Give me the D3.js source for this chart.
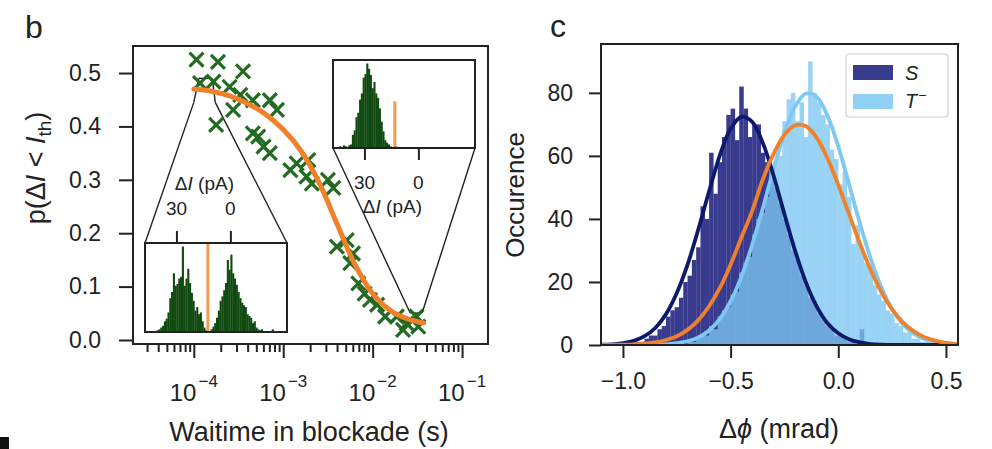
<!DOCTYPE html>
<html>
<head>
<meta charset="utf-8">
<script src="https://cdn.jsdelivr.net/npm/d3@7"></script>
<style>
  body { margin: 0; background: #fff; }
  svg text { font-family: "Liberation Sans", Arial, sans-serif; fill: #222; }
</style>
</head>
<body>
<svg id="fig" width="992" height="449"></svg>
<script>
// ---------- panel b data ----------
// wait time as log10(seconds), probability p(dI < I_th)
const waitExp = [-3.97, -3.73, -3.45, -3.93, -3.78, -3.60, -3.48, -3.75, -3.56,
  -3.34, -3.15, -3.07, -3.34, -3.28, -3.22, -3.15, -2.92, -2.85, -2.74, -2.68, -2.72,
  -2.50, -2.44, -2.40, -2.29, -2.22, -2.25, -2.16, -2.09, -2.03, -1.95,
  -1.86, -1.73, -1.62, -1.66, -1.51, -1.49];
const pBelow = [0.525, 0.521, 0.503, 0.481, 0.484, 0.474, 0.459, 0.403, 0.431,
  0.449, 0.449, 0.431, 0.387, 0.381, 0.362, 0.350, 0.318, 0.331, 0.306, 0.293, 0.337,
  0.300, 0.285, 0.175, 0.187, 0.162, 0.144, 0.106, 0.087, 0.075, 0.066,
  0.044, 0.044, 0.031, 0.019, 0.044, 0.025];
const fitExp = [-4.0, -3.8, -3.6, -3.4, -3.2, -3.0, -2.8, -2.6, -2.4, -2.2,
  -2.0, -1.8, -1.6, -1.43];
const fitP = [0.470, 0.466, 0.457, 0.443, 0.423, 0.394, 0.354, 0.295, 0.218, 0.142,
  0.087, 0.055, 0.039, 0.032];
const pTicks = [0, 0.1, 0.2, 0.3, 0.4, 0.5];
const decadeTicks = [-4, -3, -2, -1];

// inset histograms, 1 pA bins, first bin centred on 43.5 pA, going down
const insetFirstBin = 43.5;
const insetShortCounts = [0, 1, 1, 2, 3, 5, 7, 12, 15, 22, 38, 45, 66, 52, 54, 60, 62, 96, 52, 60,
  71, 55, 44, 35, 24, 28, 20, 22, 12, 5, 2, 1, 0, 3, 6, 10, 16, 24, 35, 40,
  47, 55, 81, 70, 87, 66, 60, 53, 45, 38, 33, 30, 28, 20, 18, 16, 10, 12, 5, 3,
  2, 3, 0, 0, 0, 0, 0, 3, 0];
const insetLongCounts = [2, 1, 3, 2, 1, 3, 4, 15, 20, 35, 40, 55, 62, 80, 84, 96, 90, 83, 68, 75,
  62, 57, 45, 30, 19, 9, 6, 4, 2, 1, 0, 2, 1, 0, 1, 0, 1, 0, 1, 0,
  1, 0, 0, 1, 0, 1, 0, 1, 0, 0, 0, 0, 0, 0, 0, 0, 0, 0, 0, 0];
const insetTicks = [30, 0];
const thresholdShort = 12.5;   // pA
const thresholdLong = 13.1;    // pA
const thresholdLongHeight = 53;

// ---------- panel c data ----------
const phiBinWidth = 0.02;
const sFirstBin = -1.00;
const sCounts = [0, 1, 0, 1, 1, 2, 3, 3, 5, 6, 9, 11, 12, 15, 20, 22, 27, 31, 44, 40,
  61, 48, 58, 66, 73, 75, 65, 82, 75, 66, 70, 70, 61, 58, 55, 50, 45, 40, 35, 30,
  27, 22, 19, 15, 14, 10, 8, 6, 5, 3, 3, 2, 1, 1, 0, 5, 0];
const tFirstBin = -0.70;
const tCounts = [1, 1, 2, 3, 3, 6, 5, 9, 11, 12, 16, 17, 23, 26, 28, 35, 40, 42, 47, 55,
  58, 60, 71, 78, 80, 71, 77, 66, 90, 80, 77, 73, 70, 62, 59, 51, 55, 47, 32, 38,
  30, 26, 25, 19, 16, 14, 11, 10, 7, 6, 4, 4, 2, 2, 1, 1];
const phiGrid = [-1.10, -1.05, -1.00, -0.95, -0.90, -0.85, -0.80, -0.75, -0.70, -0.65,
  -0.60, -0.55, -0.50, -0.45, -0.40, -0.35, -0.30, -0.25, -0.20, -0.15,
  -0.10, -0.05, 0.00, 0.05, 0.10, 0.15, 0.20, 0.25, 0.30, 0.35, 0.40, 0.45, 0.50, 0.55];
const sFit = [0.1, 0.2, 0.6, 1.3, 2.8, 5.4, 9.8, 16.5, 25.5, 36.7,
  48.8, 60.2, 68.6, 72.4, 70.8, 64.0, 53.6, 41.5, 29.8, 19.8,
  12.2, 6.9, 3.7, 1.8, 0.8, 0.3, 0.1, 0, 0, 0, 0, 0, 0, 0];
const tFit = [0, 0, 0, 0, 0.04, 0.1, 0.2, 0.6, 1.2, 2.4,
  4.6, 8.3, 13.9, 21.7, 31.8, 43.5, 55.9, 67.2, 75.7, 79.8,
  78.7, 72.7, 63.0, 51.0, 38.7, 27.5, 18.3, 11.4, 6.6, 3.6, 1.85, 0.9, 0.4, 0.2];
const mixFit = [0, 0.04, 0.1, 0.2, 0.4, 0.8, 1.6, 2.8, 4.8, 7.9,
  12.3, 18.1, 25.5, 34.1, 42.5, 52.6, 60.7, 66.7, 69.7, 69.4,
  65.7, 59.2, 50.8, 41.5, 32.3, 23.9, 16.8, 11.3, 7.2, 4.4, 2.5, 1.4, 0.7, 0.3];
const phiTicks = [-1.0, -0.5, 0.0, 0.5];
const countTicks = [0, 20, 40, 60, 80];
const legendLabels = ["S", "T"];

const INK = "#222";
const GREEN = "#236b23";
const DARK_GREEN = "#114a11";
const ORANGE = "#f0802a";
const NAVY_BAR = "#393c8e";
const SKY_BAR = "#7cc6f2";

const svg = d3.select("#fig");

function styleAxis(g, fontSize) {
  g.select(".domain").remove();
  g.selectAll(".tick line").attr("stroke", INK).attr("stroke-width", 2);
  g.selectAll(".tick text").attr("font-size", fontSize).attr("fill", INK)
    .attr("font-family", "Liberation Sans, Arial, sans-serif");
}

// ================= panel b =================
const B = { left: 133, right: 488, top: 46, bottom: 344 };
const bx = d3.scaleLog().domain([10 ** -4.68, 10 ** -0.71]).range([B.left, B.right]);
const by = d3.scaleLinear().domain([-0.0075, 0.5506]).range([B.bottom, B.top]);
const gb = svg.append("g").attr("id", "panel-b");

gb.append("text").attr("x", 25).attr("y", 38).attr("font-size", 32).text("b");

gb.append("g").attr("transform", `translate(${B.left},0)`)
  .call(d3.axisLeft(by).tickValues(pTicks).tickSize(14).tickPadding(18).tickFormat(d3.format(".1f")))
  .call(g => styleAxis(g, 23));

const minorTicks = [];
decadeTicks.concat([-5]).forEach(e => {
  for (let m = 2; m <= 9; m++) {
    const v = m * 10 ** e;
    if (v > bx.domain()[0] && v < bx.domain()[1]) minorTicks.push(v);
  }
});
gb.append("g").attr("transform", `translate(0,${B.bottom})`)
  .call(d3.axisBottom(bx).tickValues(minorTicks).tickSize(8).tickFormat(""))
  .call(g => styleAxis(g, 10));
gb.append("g").attr("transform", `translate(0,${B.bottom})`)
  .call(d3.axisBottom(bx).tickValues(decadeTicks.map(e => 10 ** e)).tickSize(14).tickFormat(""))
  .call(g => styleAxis(g, 10));

const decLabels = gb.append("g").selectAll("text").data(decadeTicks).join("text")
  .attr("x", e => bx(10 ** e)).attr("y", 401)
  .attr("text-anchor", "middle").attr("font-size", 24);
decLabels.append("tspan").text("10");
decLabels.append("tspan").attr("dx", 2).attr("dy", -14).attr("font-size", 17).text(e => "\u2212" + Math.abs(e));

gb.append("text").attr("x", 309).attr("y", 441).attr("text-anchor", "middle")
  .attr("font-size", 27).text("Waitime in blockade (s)");

const yl = gb.append("text").attr("transform", "translate(45,168) rotate(-90)")
  .attr("text-anchor", "middle").attr("font-size", 27);
yl.append("tspan").text("p(\u0394");
yl.append("tspan").attr("font-style", "italic").text("I");
yl.append("tspan").text(" < ");
yl.append("tspan").attr("font-style", "italic").text("I");
yl.append("tspan").attr("font-size", 19).attr("dy", 6).text("th");
yl.append("tspan").attr("dy", -6).text(")");

// zoom lines from the insets to the curve
const shortApexL = [bx(10 ** -4.0), by(0.445)];
const shortApexR = [bx(10 ** -3.76), by(0.445)];
const longApexL = [bx(10 ** -1.58), by(0.0505)];
const longApexR = [bx(10 ** -1.447), by(0.0505)];
const zoomLines = [
  [[145, 243], shortApexL], [[287, 243], shortApexR],
  [shortApexL, [shortApexL[0] + 5, by(0.49)]], [[shortApexL[0] + 5, by(0.49)], [shortApexR[0] - 3, by(0.49)]],
  [[shortApexR[0] - 3, by(0.49)], shortApexR],
  [[333, 148], longApexL], [[475, 148], longApexR], [longApexL, longApexR]
];
gb.append("g").selectAll("line").data(zoomLines).join("line")
  .attr("x1", d => d[0][0]).attr("y1", d => d[0][1])
  .attr("x2", d => d[1][0]).attr("y2", d => d[1][1])
  .attr("stroke", INK).attr("stroke-width", 1.4);

// markers
const pts = waitExp.map((e, i) => [e, pBelow[i]]);
gb.append("g").selectAll("path").data(pts).join("path")
  .attr("transform", d => `translate(${bx(10 ** d[0])},${by(d[1])})`)
  .attr("d", "M-7,-7L7,7M-7,7L7,-7")
  .attr("stroke", GREEN).attr("stroke-width", 3.2).attr("fill", "none");

const fitLine = d3.line().x(d => bx(10 ** d[0])).y(d => by(d[1])).curve(d3.curveCatmullRom);
gb.append("path").datum(fitExp.map((e, i) => [e, fitP[i]]))
  .attr("d", fitLine).attr("fill", "none").attr("stroke", ORANGE).attr("stroke-width", 5)
  .attr("stroke-linecap", "round");

gb.append("rect").attr("x", B.left).attr("y", B.top)
  .attr("width", B.right - B.left).attr("height", B.bottom - B.top)
  .attr("fill", "none").attr("stroke", INK).attr("stroke-width", 2);

// insets
function drawInset(box, counts, threshold, threshHeight, ticksOnTop) {
  const g = gb.append("g");
  const ix = d3.scaleLinear().domain([47.5, -31.5]).range([box.x0, box.x1]);
  const iy = d3.scaleLinear().domain([0, 100]).range([box.y1, box.y0]);
  g.append("rect").attr("x", box.x0).attr("y", box.y0)
    .attr("width", box.x1 - box.x0).attr("height", box.y1 - box.y0).attr("fill", "#fff");
  g.append("g").selectAll("rect").data(counts).join("rect")
    .attr("x", (d, i) => ix(insetFirstBin - i + 0.5))
    .attr("width", (d, i) => ix(insetFirstBin - i - 0.5) - ix(insetFirstBin - i + 0.5) + 0.3)
    .attr("y", d => iy(d)).attr("height", d => iy(0) - iy(d))
    .attr("fill", DARK_GREEN);
  g.append("line").attr("x1", ix(threshold)).attr("x2", ix(threshold))
    .attr("y1", iy(0)).attr("y2", iy(threshHeight))
    .attr("stroke", "#f39a50").attr("stroke-width", 3);
  const axis = ticksOnTop ? d3.axisTop(ix) : d3.axisBottom(ix);
  g.append("g").attr("transform", `translate(0,${ticksOnTop ? box.y0 : box.y1})`)
    .call(axis.tickValues(insetTicks).tickSize(12).tickFormat(""))
    .call(a => styleAxis(a, 10));
  const tickY = ticksOnTop ? box.y0 - 28 : box.y1 + 41;
  const labY = ticksOnTop ? box.y0 - 53 : box.y1 + 65;
  g.append("g").selectAll("text").data(insetTicks).join("text")
    .attr("x", d => ix(d)).attr("y", tickY).attr("text-anchor", "middle")
    .attr("font-size", 19).attr("fill", "#555").text(d => d);
  const lab = g.append("text").attr("x", (ix(30) + ix(0)) / 2 + 1).attr("y", labY)
    .attr("text-anchor", "middle").attr("font-size", 19).attr("fill", "#555");
  lab.append("tspan").text("\u0394");
  lab.append("tspan").attr("font-style", "italic").text("I");
  lab.append("tspan").text(" (pA)");
  g.append("rect").attr("x", box.x0).attr("y", box.y0)
    .attr("width", box.x1 - box.x0).attr("height", box.y1 - box.y0)
    .attr("fill", "none").attr("stroke", INK).attr("stroke-width", 2);
}
drawInset({ x0: 145, x1: 287, y0: 243, y1: 332 }, insetShortCounts, thresholdShort, 100, true);
drawInset({ x0: 333, x1: 475, y0: 60, y1: 148 }, insetLongCounts, thresholdLong, thresholdLongHeight, false);

// ================= panel c =================
const C = { left: 601, right: 958, top: 44, bottom: 345 };
const cx = d3.scaleLinear().domain([-1.102, 0.556]).range([C.left, C.right]);
const cy = d3.scaleLinear().domain([0, 95.5]).range([C.bottom, C.top]);
const gc = svg.append("g").attr("id", "panel-c");

gc.append("text").attr("x", 550).attr("y", 37).attr("font-size", 32).text("c");

gc.append("defs").append("clipPath").attr("id", "clip-c")
  .append("rect").attr("x", C.left).attr("y", C.top)
  .attr("width", C.right - C.left).attr("height", C.bottom - C.top);
const plotC = gc.append("g").attr("clip-path", "url(#clip-c)");

function drawHist(counts, first, fill, opacity) {
  plotC.append("g").selectAll("rect").data(counts).join("rect")
    .attr("x", (d, i) => cx(first + i * phiBinWidth))
    .attr("width", (d, i) => cx(first + (i + 1) * phiBinWidth) - cx(first + i * phiBinWidth) + 0.2)
    .attr("y", d => cy(d)).attr("height", d => cy(0) - cy(d))
    .attr("fill", fill).attr("fill-opacity", opacity);
}
drawHist(sCounts, sFirstBin, NAVY_BAR, 1);
drawHist(tCounts, tFirstBin, SKY_BAR, 0.78);

const gauss = d3.line().x(d => cx(d[0])).y(d => cy(d[1])).curve(d3.curveCatmullRom);
[[tFit, "#7ec8f3"], [sFit, "#0d1a6c"], [mixFit, ORANGE]].forEach(([vals, col]) => {
  plotC.append("path").datum(phiGrid.map((p, i) => [p, vals[i]]))
    .attr("d", gauss).attr("fill", "none").attr("stroke", col).attr("stroke-width", 3.8);
});

gc.append("g").attr("transform", `translate(${C.left},0)`)
  .call(d3.axisLeft(cy).tickValues(countTicks).tickSize(12).tickPadding(16))
  .call(g => styleAxis(g, 23));
gc.append("g").attr("transform", `translate(0,${C.bottom})`)
  .call(d3.axisBottom(cx).tickValues(phiTicks).tickSize(13).tickPadding(15)
    .tickFormat(d => d3.format(".1f")(d).replace("-", "\u2212")))
  .call(g => styleAxis(g, 23));

gc.append("rect").attr("x", C.left).attr("y", C.top)
  .attr("width", C.right - C.left).attr("height", C.bottom - C.top)
  .attr("fill", "none").attr("stroke", INK).attr("stroke-width", 2);

const xl = gc.append("text").attr("x", 779).attr("y", 438).attr("text-anchor", "middle").attr("font-size", 27);
xl.append("tspan").text("\u0394");
xl.append("tspan").attr("font-style", "italic").text("\u03d5");
xl.append("tspan").text(" (mrad)");

gc.append("text").attr("transform", "translate(524,195) rotate(-90)")
  .attr("text-anchor", "middle").attr("font-size", 26).text("Occurence");

// legend
const lg = gc.append("g");
lg.append("rect").attr("x", 846).attr("y", 54).attr("width", 102).attr("height", 63)
  .attr("rx", 3).attr("fill", "#fff").attr("fill-opacity", 0.85)
  .attr("stroke", "#d0d0d0").attr("stroke-width", 1.2);
const swatch = [NAVY_BAR, "#8fd1f5"];
legendLabels.forEach((lab, i) => {
  lg.append("rect").attr("x", 853).attr("y", 65 + i * 29).attr("width", 40).attr("height", 15)
    .attr("fill", swatch[i]);
  const t = lg.append("text").attr("x", 905).attr("y", 80 + i * 28).attr("font-size", 20)
    .attr("font-style", "italic").text(lab);
  if (i === 1) t.append("tspan").attr("dx", 1).attr("dy", -8).attr("font-size", 14).attr("font-style", "normal").text("\u2212");
});

// small mark at the lower left corner of the page
svg.append("rect").attr("x", 0).attr("y", 437).attr("width", 9).attr("height", 12).attr("fill", "#111");
</script>
</body>
</html>
